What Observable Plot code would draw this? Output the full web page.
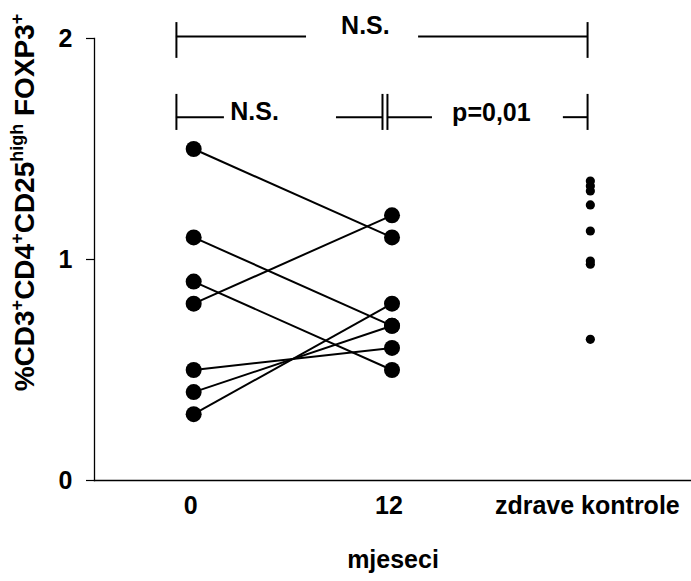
<!DOCTYPE html>
<html>
<head>
<meta charset="utf-8">
<script src="https://cdn.jsdelivr.net/npm/d3@7"></script>
<script src="https://cdn.jsdelivr.net/npm/@observablehq/plot@0.6"></script>
<style>
  html, body { margin: 0; padding: 0; background: #fff; }
  #chart svg { font-family: "Liberation Sans", Arial, Helvetica, sans-serif; font-weight: bold; }
</style>
</head>
<body>
<div id="chart"></div>
<script>
// ---- data ----
const groups = ["0", "12", "zdrave kontrole"];          // x categories (index = position)
const month0  = [1.5, 1.1, 0.9, 0.8, 0.5, 0.4, 0.3];   // patients at 0 months
const month12 = [1.1, 0.7, 0.5, 1.2, 0.6, 0.7, 0.8];   // same patients at 12 months
const controls = [1.355, 1.333, 1.31, 1.247, 1.129, 0.993, 0.979, 0.639]; // healthy controls
const yTicks = [0, 1, 2];
const yLabelParts = [["%CD3", false], ["+", true], ["CD4", false], ["+", true], ["CD25", false], ["high", true], [" FOXP3", false], ["+", true]];
const xLabel = "mjeseci";

// significance brackets (in chart units: x = group index, y = value)
const bracketH = [ // [x1, x2, y]
  [-0.087, 0.569, 2.009], [1.134, 1.986, 2.009],
  [-0.087, 0.155, 1.644], [0.720, 0.952, 1.644],
  [0.977, 1.204, 1.644], [1.864, 1.986, 1.644]
];
const bracketV = [ // [x, y1, y2]
  [-0.087, 1.910, 2.072], [1.986, 1.910, 2.072],
  [-0.087, 1.584, 1.747], [0.952, 1.584, 1.747],
  [0.977, 1.584, 1.747], [1.986, 1.584, 1.747]
];
const bracketText = [
  {x: 0.866, y: 2.058, t: "N.S."},
  {x: 0.307, y: 1.667, t: "N.S."},
  {x: 1.501, y: 1.662, t: "p=0,01"}
];

// ---- derived tables ----
const pairs = month0.map((v, i) => ({before: v, after: month12[i]}));
const pts = [
  ...month0.map(v => ({g: 0, v})),
  ...month12.map(v => ({g: 1, v}))
];
const ctrl = controls.map(v => ({g: 2, v}));
const yLabelPlain = yLabelParts.map(d => d[0]).join("");

const plot = Plot.plot({
  width: 691,
  height: 581,
  marginLeft: 94,
  marginRight: 0,
  marginTop: 38,
  marginBottom: 101,
  x: {type: "linear", domain: [-0.5, 2.51]},
  y: {domain: [0, 2]},
  marks: [
    Plot.axisY({ticks: yTicks, tickFormat: d => String(d), tickSize: 8, tickPadding: 14, fontSize: 25, label: null, strokeWidth: 1.2}),
    Plot.axisX({ticks: [0, 1, 2], tickFormat: d => groups[d], tickSize: 0, tickPadding: 16, fontSize: 25, label: null, dx: -3}),
    Plot.frame({anchor: "left", strokeWidth: 1.3}),
    Plot.frame({anchor: "bottom", strokeWidth: 1.3}),
    Plot.text([yLabelPlain], {frameAnchor: "left", y: [1.258], dx: -69, rotate: -90, textAnchor: "middle", lineAnchor: "middle", fontSize: 28}),
    Plot.text([xLabel], {frameAnchor: "bottom", dy: 79, lineAnchor: "middle", fontSize: 25}),
    Plot.link(pairs, {x1: () => 0, x2: () => 1, y1: "before", y2: "after", stroke: "black", strokeWidth: 2}),
    Plot.dot(pts, {x: "g", y: "v", r: 8, fill: "black"}),
    Plot.dot(ctrl, {x: "g", y: "v", r: 4.6, fill: "black"}),
    Plot.ruleY(bracketH, {x1: d => d[0], x2: d => d[1], y: d => d[2], stroke: "black", strokeWidth: 2}),
    Plot.ruleX(bracketV, {x: d => d[0], y1: d => d[1], y2: d => d[2], stroke: "black", strokeWidth: 2}),
    Plot.text(bracketText, {x: "x", y: "y", text: "t", fontSize: 25, lineAnchor: "middle"})
  ]
});

// superscripts in the y label
plot.querySelectorAll("text").forEach(el => {
  if (el.textContent === yLabelPlain) {
    while (el.firstChild) el.removeChild(el.firstChild);
    const ns = "http://www.w3.org/2000/svg";
    let prevSup = false;
    yLabelParts.forEach(([s, sup]) => {
      const ts = document.createElementNS(ns, "tspan");
      ts.textContent = s;
      if (sup) { ts.setAttribute("font-size", "18"); ts.setAttribute("dy", prevSup ? "0" : "-11"); }
      else if (prevSup) { ts.setAttribute("dy", "11"); }
      prevSup = sup;
      el.appendChild(ts);
    });
  }
});

document.getElementById("chart").appendChild(plot);
</script>
</body>
</html>
